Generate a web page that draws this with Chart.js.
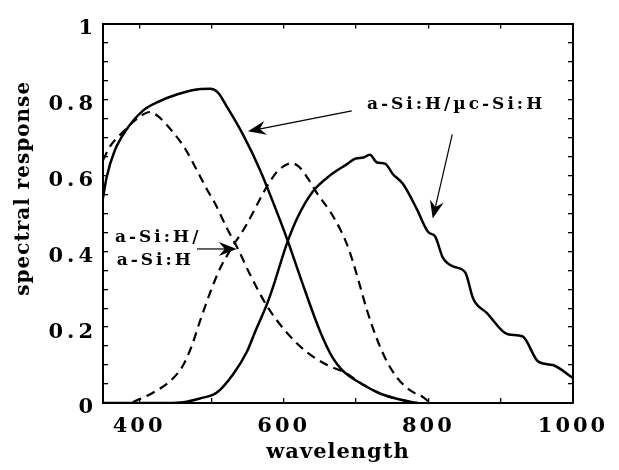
<!DOCTYPE html>
<html>
<head>
<meta charset="utf-8">
<script src="https://cdn.jsdelivr.net/npm/chart.js@4"></script>
<style>
  body { margin: 0; background: #fff; }
  #wrap { width: 619px; height: 470px; }
</style>
</head>
<body>
<div id="wrap"><canvas id="chart" width="619" height="470"></canvas></div>
<script>
// a-Si:H/uc-Si:H tandem, top cell (solid)
const wlMicroTop = [350, 355, 366, 383, 405, 429, 452, 475, 498, 509, 521, 544, 567, 585, 605, 625, 650, 668, 680, 690, 701, 733, 765, 785];
const srMicroTop = [0.54, 0.595, 0.664, 0.722, 0.77, 0.796, 0.813, 0.825, 0.828, 0.818, 0.782, 0.706, 0.615, 0.53, 0.43, 0.32, 0.19, 0.118, 0.088, 0.072, 0.058, 0.025, 0.007, 0];

// a-Si:H/uc-Si:H tandem, bottom cell (solid)
const wlMicroBot = [350, 440, 461, 484, 507, 530, 549, 560, 577, 585, 605, 620, 640, 664, 687, 699, 710, 719, 729, 740, 751, 765, 784, 800, 809, 820, 834, 851, 862, 881, 910, 930, 952, 972, 1000];
const srMicroBot = [0, 0, 0.002, 0.012, 0.027, 0.076, 0.135, 0.186, 0.262, 0.305, 0.424, 0.493, 0.557, 0.6, 0.629, 0.644, 0.647, 0.654, 0.634, 0.631, 0.603, 0.577, 0.511, 0.45, 0.44, 0.383, 0.36, 0.344, 0.275, 0.237, 0.181, 0.176, 0.109, 0.1, 0.066];

// a-Si:H/a-Si:H tandem, top cell (dashed)
const wlAmorTop = [350, 360, 378, 397, 415, 426, 445, 463, 480, 494, 505, 521, 537, 553, 577, 604, 632, 660, 685, 710, 740, 785];
const srAmorTop = [0.64, 0.677, 0.715, 0.749, 0.767, 0.756, 0.718, 0.672, 0.613, 0.562, 0.526, 0.462, 0.405, 0.34, 0.255, 0.186, 0.134, 0.1, 0.08, 0.048, 0.02, 0];

// a-Si:H/a-Si:H tandem, bottom cell (dashed)
const wlAmorBot = [350, 385, 400, 419, 443, 461, 473, 484, 498, 512, 530, 546, 557, 570, 578, 592, 611, 622, 634, 647, 664, 678, 687, 696, 703, 715, 729, 743, 757, 775, 793, 800];
const srAmorBot = [0, 0, 0.01, 0.027, 0.058, 0.1, 0.152, 0.215, 0.29, 0.355, 0.415, 0.462, 0.5, 0.548, 0.575, 0.612, 0.632, 0.621, 0.59, 0.55, 0.505, 0.458, 0.42, 0.37, 0.325, 0.245, 0.168, 0.108, 0.066, 0.033, 0.015, 0.004];

const xTicks = [400, 600, 800, 1000];
const yTicks = [0, 0.2, 0.4, 0.6, 0.8, 1];

const serif = "'DejaVu Serif', 'Liberation Serif', serif";

// labels and arrows, in data units
const notes = [
  { text: "a-Si:H/\u00b5c-Si:H", x: 715, y: 0.775 },
  { text: "a-Si:H/", x: 366.6, y: 0.425 },
  { text: "a-Si:H", x: 369, y: 0.365 }
];
const arrows = [
  { from: [694, 0.77], to: [550.5, 0.716] },
  { from: [833, 0.708], to: [806, 0.486] },
  { from: [480, 0.406], to: [535, 0.406] }
];

function pts(xs, ys) {
  return xs.map((x, i) => ({ x: x, y: ys[i] }));
}

function isMajor(v, list) {
  return list.some(t => Math.abs(t - v) < 1e-6);
}

function drawArrow(ctx, x1, y1, x2, y2) {
  const a = Math.atan2(y2 - y1, x2 - x1);
  ctx.beginPath();
  ctx.moveTo(x1, y1);
  ctx.lineTo(x2 - 10 * Math.cos(a), y2 - 10 * Math.sin(a));
  ctx.stroke();
  ctx.save();
  ctx.translate(x2, y2);
  ctx.rotate(a);
  ctx.beginPath();
  ctx.moveTo(0, 0);
  ctx.lineTo(-18, -7);
  ctx.lineTo(-12, 0);
  ctx.lineTo(-18, 7);
  ctx.closePath();
  ctx.fill();
  ctx.restore();
}

// letter spacing for tick labels, small shift for the y title
function patchScale(scale, spacing, shift) {
  if (scale._patched) return;
  scale._patched = true;
  const drawLabels = scale.drawLabels;
  const drawTitle = scale.drawTitle;
  scale.drawLabels = function (area) {
    this.ctx.save();
    this.ctx.letterSpacing = spacing;
    drawLabels.call(this, area);
    this.ctx.restore();
  };
  scale.drawTitle = function () {
    this.ctx.save();
    this.ctx.translate(0, shift);
    this.ctx.letterSpacing = "1px";
    drawTitle.call(this);
    this.ctx.restore();
  };
}

const notesPlugin = {
  id: "notes",
  beforeDraw(chart) {
    patchScale(chart.scales.x, "3px", 0);
    patchScale(chart.scales.y, "4px", -25);
  },
  afterDatasetsDraw(chart) {
    const ctx = chart.ctx;
    const sx = chart.scales.x, sy = chart.scales.y;
    ctx.save();
    ctx.fillStyle = "#000";
    ctx.strokeStyle = "#000";
    ctx.lineWidth = 1.2;
    arrows.forEach(a => {
      drawArrow(ctx,
        sx.getPixelForValue(a.from[0]), sy.getPixelForValue(a.from[1]),
        sx.getPixelForValue(a.to[0]), sy.getPixelForValue(a.to[1]));
    });
    ctx.font = "bold 17px " + serif;
    ctx.letterSpacing = "3px";
    ctx.textAlign = "left";
    ctx.textBaseline = "alphabetic";
    notes.forEach(n => {
      ctx.fillText(n.text, sx.getPixelForValue(n.x), sy.getPixelForValue(n.y));
    });
    ctx.restore();
  }
};

Chart.defaults.color = "#000";

const lineStyle = { borderColor: "#000", pointRadius: 0, fill: false, cubicInterpolationMode: "monotone" };

const frameGrid = { drawOnChartArea: false, drawTicks: true, tickLength: -5, color: "#000", lineWidth: 1.3 };
const frameBorder = { display: true, color: "#000", width: 2 };

new Chart(document.getElementById("chart"), {
  type: "line",
  data: {
    datasets: [
      { ...lineStyle, label: "a-Si:H/\u00b5c-Si:H top", data: pts(wlMicroTop, srMicroTop), borderWidth: 2.5 },
      { ...lineStyle, label: "a-Si:H/\u00b5c-Si:H bottom", data: pts(wlMicroBot, srMicroBot), borderWidth: 2.5 },
      { ...lineStyle, label: "a-Si:H/a-Si:H top", data: pts(wlAmorTop, srAmorTop), borderWidth: 2.2, borderDash: [9, 6] },
      { ...lineStyle, label: "a-Si:H/a-Si:H bottom", data: pts(wlAmorBot, srAmorBot), borderWidth: 2.2, borderDash: [9, 6] }
    ]
  },
  options: {
    responsive: false,
    animation: false,
    layout: { padding: 0 },
    plugins: { legend: { display: false }, tooltip: { enabled: false } },
    scales: {
      x: {
        type: "linear",
        position: "bottom",
        min: 350,
        max: 1000,
        grid: frameGrid,
        border: frameBorder,
        ticks: {
          stepSize: 100,
          includeBounds: false,
          autoSkip: false,
          maxRotation: 0,
          padding: 16,
          font: { family: serif, size: 21, weight: "bold" },
          callback: v => isMajor(v, xTicks) ? String(v) : ""
        },
        title: {
          display: true,
          text: "wavelength",
          font: { family: serif, size: 21, weight: "bold" },
          padding: { top: 0, bottom: 5 }
        },
        afterFit: s => { s.height = 67; }
      },
      x2: {
        type: "linear",
        position: "top",
        display: true,
        min: 350,
        max: 1000,
        grid: frameGrid,
        border: frameBorder,
        ticks: { display: false, stepSize: 100, includeBounds: false },
        afterFit: s => { s.height = 12; }
      },
      y: {
        type: "linear",
        position: "left",
        min: 0,
        max: 1,
        grid: frameGrid,
        border: frameBorder,
        ticks: {
          stepSize: 0.05,
          autoSkip: false,
          padding: 11,
          labelOffset: 5,
          font: { family: serif, size: 21, weight: "bold" },
          callback: v => isMajor(v, yTicks) ? (v === 0 || v === 1 ? String(v) : v.toFixed(1)) : ""
        },
        title: {
          display: true,
          text: "spectral response",
          font: { family: serif, size: 20, weight: "bold" },
          padding: { top: 12, bottom: 0 }
        },
        afterFit: s => { s.width = 103; }
      },
      y2: {
        type: "linear",
        position: "right",
        display: true,
        min: 0,
        max: 1,
        grid: frameGrid,
        border: frameBorder,
        ticks: { display: false, stepSize: 0.05 },
        afterFit: s => { s.width = 46; }
      }
    }
  },
  plugins: [notesPlugin]
});
</script>
</body>
</html>
